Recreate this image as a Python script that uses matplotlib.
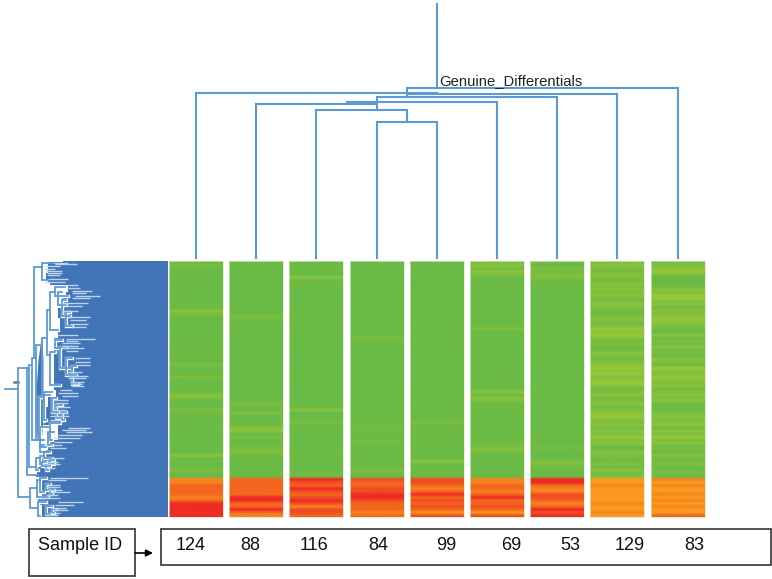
#!/usr/bin/env python3

import numpy as np
import matplotlib
matplotlib.use('Agg')
import matplotlib.pyplot as plt
from matplotlib.colors import ListedColormap, BoundaryNorm
from matplotlib.patches import Rectangle

plt.rcParams['font.family'] = ['Liberation Sans', 'DejaVu Sans']

sample_ids = ['124', '88', '116', '84', '99', '69', '53', '129', '83']

# heat levels, 0-4 green to yellow-green (72 rows)
green_124 = [0,2,0,0,0,0,1,0,0,1,0,0, 0,0,0,0,3,2,0,0,0,0,0,0, 0,1,0,0,0,0,1,0,0,0,2,0,
             0,0,2,0,0,0,0,0,3,2,0,0, 0,2,1,0,0,0,1,0,0,0,0,0, 0,0,0,0,3,0,1,0,0,2,0,0]
green_88 = [0,0,0,0,0,0,0,0,0,0,0,0, 0,0,0,0,0,0,2,0,1,0,0,0, 0,0,0,0,0,0,0,0,0,0,0,0,
            0,0,0,0,0,0,0,0,0,0,0,2, 0,0,2,0,0,1,0,3,3,0,2,0, 0,1,2,2,1,0,0,0,0,0,0,0]
green_116 = [0,0,1,0,0,3,0,1,0,0,0,0, 0,0,0,0,0,0,0,1,0,0,0,0, 0,0,0,0,0,0,0,0,0,0,0,0,
             0,0,0,0,0,0,0,0,0,0,0,0, 0,3,0,0,0,2,0,0,0,0,0,0, 0,0,0,1,0,0,0,0,0,0,1,0]
green_84 = [0,0,0,0,0,0,0,0,0,0,0,0, 0,0,0,0,0,0,0,0,0,0,0,0, 0,2,0,1,0,0,0,0,0,0,0,0,
            0,0,0,0,0,0,0,0,0,0,0,0, 0,0,0,0,0,0,1,1,0,0,0,1, 1,0,0,0,0,0,1,0,0,2,1,0]
green_99 = [0,0,0,0,0,0,0,0,0,0,0,0, 0,0,0,0,0,0,0,0,1,0,0,0, 0,0,0,1,0,0,0,0,0,0,0,0,
            0,0,0,0,0,0,0,0,0,0,0,1, 0,0,0,0,0,2,1,0,1,0,0,1, 0,0,0,0,0,0,3,0,0,0,1,0]
green_69 = [2,3,1,3,2,0,0,0,1,0,0,0, 0,0,0,0,0,0,0,0,0,0,2,0, 0,0,0,0,0,0,0,0,0,0,0,0,
            0,0,1,0,0,0,0,3,0,3,2,0, 0,1,0,0,0,1,0,0,0,0,0,0, 1,1,3,1,0,0,0,0,0,0,0,0]
green_53 = [1,0,2,1,2,2,1,0,0,0,0,0, 0,0,0,0,0,0,0,0,0,0,0,0, 0,0,0,0,0,0,0,0,0,0,0,0,
            0,0,0,0,0,0,1,0,0,0,0,0, 0,0,0,0,0,0,0,0,0,0,0,0, 0,1,1,0,0,0,2,2,1,0,0,0]
green_129 = [2,3,2,1,3,2,1,3,2,3,2,3, 1,2,3,2,1,0,2,3,1,2,4,3, 4,3,1,2,1,0,3,2,1,2,3,4,
             3,4,2,3,4,3,1,2,3,1,2,3, 1,2,3,4,3,2,3,1,3,2,4,2, 3,1,0,3,2,1,1,2,1,3,1,2]
green_83 = [1,2,3,4,2,0,0,0,1,3,2,4, 4,2,3,1,3,2,3,4,3,2,1,0, 3,1,2,0,3,1,2,0,3,2,1,4,
            3,2,4,3,2,3,1,2,3,2,3,0, 0,1,2,3,2,3,3,1,3,2,4,2, 3,1,2,0,3,1,1,2,0,1,1,0]
green_levels = [green_124, green_88, green_116, green_84, green_99,
                green_69, green_53, green_129, green_83]

# heat levels, 5-9 orange to red (13 rows)
red_124 = [6,6,7,7,7,7,6,7,9,9,9,9,9]
red_88 = [7,7,7,7,7,7,9,9,7,7,9,7,6]
red_116 = [9,8,7,9,8,7,8,9,8,6,8,8,7]
red_84 = [8,7,7,8,8,9,9,8,7,7,7,6,7]
red_99 = [8,8,7,6,7,9,7,8,7,8,7,5,8]
red_69 = [6,6,7,7,6,7,9,7,7,8,7,5,8]
red_53 = [9,9,7,6,6,8,8,7,6,7,9,8,9]
red_129 = [5,5,6,5,5,5,5,5,6,5,5,6,5]
red_83 = [6,5,6,5,5,6,5,6,5,6,5,5,7]
red_levels = [red_124, red_88, red_116, red_84, red_99,
              red_69, red_53, red_129, red_83]

level_colors = ['#6abb45', '#72bc42', '#7ebf3e', '#8ac33b', '#98c836',
                '#fb9a1d', '#f7841f', '#f4661f', '#f04d22', '#ee2b24']

# sample tree brackets, ends given in column numbers
st_left = [3, 2, 1, 2.5, 3, 3.5, 0, 3.5]
st_right = [4, 3.5, 3, 5, 6, 7, 4, 8]
st_y = [122, 110, 104, 102, 97, 94, 92.5, 88]
st_left_end = [258, 258, 258, 104, 102, 97, 258, 92.5]
st_right_end = [258, 122, 110, 258, 258, 258, 92.5, 258]
st_root = 4

# gene tree brackets, the first 8 are the long trunks
br_x = [18, 27, 29, 32, 33.5, 36, 42, 42, 47, 50, 55, 58, 62, 66, 50, 55, 60, 66, 72, 44, 52, 56, 62, 40, 48, 40, 44, 50, 30, 37, 40, 46, 50, 38, 46, 52, 36, 40, 42, 46, 39, 50]
br_y0 = [368, 368, 365, 358, 267, 345, 263, 338, 310, 292, 287, 292, 300, 312, 352, 340, 347, 358, 366, 392, 398, 405, 412, 427, 432, 445, 452, 460, 488, 480, 478, 484, 490, 502, 506, 509, 458, 456, 462, 466, 397, 423]
br_y1 = [497, 475, 467, 440, 357, 440, 280, 395, 355, 330, 296, 305, 316, 326, 385, 348, 368, 375, 384, 420, 412, 418, 420, 447, 445, 452, 458, 464, 508, 497, 492, 490, 494, 516, 514, 513, 470, 464, 466, 470, 440, 440]
br_xa = [27, 29, 32, 33.5, 42, 42, 54, 47, 50, 55, 65, 62, 66, 70, 55, 62, 66, 72, 76, 52, 56, 62, 66, 48, 54, 44, 50, 54, 37, 40, 46, 50, 54, 46, 52, 56, 40, 44, 46, 50, 44, 60]
br_xb = [30, 38, 36, 36, 36, 42, 48, 50, 50, 58, 68, 66, 70, 72, 60, 60, 72, 76, 78, 46, 58, 60, 64, 46, 52, 48, 52, 54, 38, 48, 44, 48, 52, 40, 50, 54, 38, 42, 44, 48, 44, 52]

# gene labels
lab_y = [264, 263, 266, 269, 271, 273, 275, 279, 282, 285, 288, 291, 293, 296, 298, 303, 306, 311, 317, 320, 324, 327,
         335, 339, 341, 343, 346, 348, 351, 358, 362, 365, 372, 376, 378, 382, 384, 386,
         390, 393, 396, 400, 403, 407, 410, 413, 416, 420,
         428, 430, 432, 435, 438, 442, 445, 448, 458, 462, 464, 468,
         478, 480, 485, 487, 490, 492, 495, 498, 502, 505, 508, 510, 513, 515]
lab_x0 = [55, 54, 46, 45, 46, 47, 47, 48, 45, 65, 68, 72, 72, 75, 72, 62, 66, 62, 68, 70, 70, 72,
          58, 66, 66, 62, 62, 60, 66, 75, 75, 78, 68, 68, 68, 70, 72, 72,
          60, 58, 62, 52, 55, 55, 52, 52, 50, 50,
          68, 62, 66, 58, 54, 54, 50, 50, 50, 45, 46, 44,
          50, 48, 50, 46, 48, 50, 46, 42, 58, 55, 52, 52, 50, 45]
lab_x1 = [77, 68, 60, 55, 62, 62, 60, 68, 65, 78, 80, 92, 86, 100, 90, 88, 82, 78, 90, 86, 88, 86,
          78, 95, 78, 80, 78, 84, 78, 90, 90, 90, 82, 88, 86, 84, 82, 84,
          72, 78, 78, 68, 68, 70, 66, 68, 69, 62,
          90, 86, 92, 82, 80, 72, 62, 66, 64, 58, 60, 55,
          88, 66, 60, 60, 62, 70, 58, 60, 83, 74, 66, 68, 60, 58]

# left edge of the blue block
edge_y = [261, 262, 273, 280, 283, 285, 292, 297, 308, 318, 330, 338, 350, 363, 377, 390, 397, 407, 423, 425, 440, 450, 457, 467, 474, 477, 490, 497, 505, 517]
edge_x = [63, 48, 46, 48, 50, 68, 66, 62, 58, 60, 58, 54, 54, 54, 54, 56, 48, 46, 44, 58, 48, 46, 40, 37, 36, 40, 42, 38, 42, 42]
wedge_y = [338, 360, 390, 424, 440]
wedge_x0 = [41, 38, 36, 36, 37]
wedge_x1 = [42, 43, 43, 43, 41]

heat_cmap = ListedColormap(level_colors)
heat_norm = BoundaryNorm(np.arange(-0.5, 10.5), heat_cmap.N)
tree_color = '#5b9bd5'

fig = plt.figure(figsize=(7.72, 5.79), dpi=100)
ax = fig.add_axes([0, 0, 1, 1])

col_left = 169
col_step = 60.2
col_width = 54
top_row = 261
bottom_row = 517


def col_center(i):
    return col_left + col_width / 2 + i * col_step


# blue block behind the labels
ax.fill_betweenx(edge_y, edge_x, 168, step='post', color='#4274b8', lw=0)

# gene tree
ax.plot([5, 18], [389, 389], color=tree_color, lw=1.3)
ax.plot([13.5, 15.5, 17.5], [382, 382, 382], ls='none', marker='s', ms=0.9, color='#777777')
for x, y0, y1, xa, xb in zip(br_x[8:], br_y0[8:], br_y1[8:], br_xa[8:], br_xb[8:]):
    ax.plot([xa, x, x, xb], [y0, y0, y1, y1], color='white', lw=2.4, solid_joinstyle='miter')
for x, y0, y1, xa, xb in zip(br_x, br_y0, br_y1, br_xa, br_xb):
    ax.plot([xa, x, x, xb], [y0, y0, y1, y1], color=tree_color, lw=1.3, solid_joinstyle='miter')
ax.fill_betweenx(wedge_y, wedge_x0, wedge_x1, color='#4274b8', lw=0)
ax.hlines(lab_y, lab_x0, lab_x1, color='#bcd3ec', lw=1.0)

# heat map columns
for i in range(len(sample_ids)):
    x0 = col_left + i * col_step
    levels = np.array([green_levels[i] + red_levels[i]]).T
    rgba = heat_cmap(heat_norm(levels))
    ax.imshow(rgba, extent=(x0, x0 + col_width, bottom_row, top_row), aspect='auto',
              interpolation='bilinear', zorder=2)
    ax.add_patch(Rectangle((x0, top_row), col_width, bottom_row - top_row, fill=False,
                           ec='#d8e8c0', lw=0.5, zorder=3))

# sample tree
for a, b, y, ya, yb in zip(st_left, st_right, st_y, st_left_end, st_right_end):
    ax.plot([col_center(a), col_center(a), col_center(b), col_center(b)], [ya, y, y, yb],
            color=tree_color, lw=1.5, solid_joinstyle='miter')
ax.plot([col_center(st_root), col_center(st_root)], [4, 88], color=tree_color, lw=1.5)
ax.text(439, 81, 'Genuine_Differentials', fontsize=10.7, color='#222222', ha='left', va='center')

# sample id strip
ax.add_patch(Rectangle((29, 529), 106, 47, fill=False, ec='#333333', lw=1.2))
ax.add_patch(Rectangle((161, 529), 610, 36, fill=False, ec='#333333', lw=1.2))
ax.text(80, 546, 'Sample ID', fontsize=13, color='#111111', ha='center', va='center')
ax.annotate('', xy=(153, 553), xytext=(135, 553),
            arrowprops=dict(arrowstyle='-|>', color='black', lw=1.2, shrinkA=0, shrinkB=0))
id_x = [191, 250, 314, 378, 446, 511, 570, 630, 694]
for x, label in zip(id_x, sample_ids):
    ax.text(x, 546, label, fontsize=13, color='#111111', ha='center', va='center')

ax.set_xlim(0, 772)
ax.set_ylim(579, 0)
ax.axis('off')

fig.savefig('out.png', dpi=100)
